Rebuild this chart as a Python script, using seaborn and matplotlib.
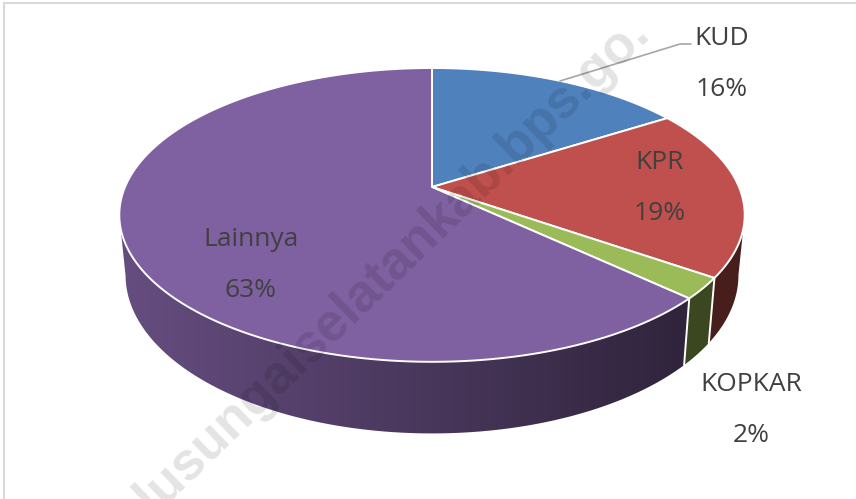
import numpy as np
import matplotlib
matplotlib.use("Agg")
import matplotlib.pyplot as plt
from matplotlib.patches import Polygon
import seaborn as sns

categories = ["KUD", "KPR", "KOPKAR", "Lainnya"]
values = [16, 18.7, 2.3, 63]
slice_colors = ["#4F81BD", "#C0504D", "#9BBB59", "#7F60A0"]
label_pos = [(722, 64), (660, 188), (751, 410), (251, 265)]
watermark = "hulusungaiselatankab.bps.go."

sns.set_theme(style="white")
plt.rcParams['font.family'] = ['Open Sans', 'DejaVu Sans']
palette = sns.color_palette(slice_colors)

fig = plt.figure(figsize=(8.56, 4.99), dpi=100)
ax = fig.add_axes([0, 0, 1, 1])
ax.set_xlim(0, 856)
ax.set_ylim(499, 0)
ax.axis("off")

# perspective of the disc, fitted on the picture
cx, cy = 432, 187
r, q, p = 307, 141.6, 0.19


def top_rim(t):
    x, y = np.cos(t), np.sin(t)
    w = 1 + p * y
    return cx + r * x / w, cy - q * y / w


def base_rim(t):
    x, y = np.cos(t), np.sin(t)
    w = 1 + p * y
    return cx + 0.98 * r * x / w, cy - q * y / w + 58 / w


def wall_shade(px):
    return np.clip(0.80 - 0.42 * (px - 125) / 555, 0.38, 1)


# angles run clockwise from 12 o'clock
edges = np.pi / 2 - 2 * np.pi * np.cumsum([0] + values) / sum(values)

# side wall, from one side extreme of the disc to the other
px = np.arange(0, 857)
for i in range(len(values)):
    ts = np.linspace(edges[i], edges[i + 1], 400)
    ts = ts[np.sin(ts) < -p]
    if len(ts) < 2:
        continue
    xt, yt = top_rim(ts)
    xb, yb = base_rim(ts)
    outline = np.column_stack([np.r_[xt, xb[::-1]], np.r_[yt, yb[::-1]]])
    grad = np.outer(wall_shade(px), np.array(palette[i]))[np.newaxis, :, :]
    im = ax.imshow(grad, extent=(0, 856, 499, 0), aspect="auto", zorder=2)
    im.set_clip_path(Polygon(outline, transform=ax.transData))
ax.set_xlim(0, 856)
ax.set_ylim(499, 0)

# white seams between slices on the wall
for e in edges[1:]:
    if np.sin(e) < 0:
        x0, y0 = top_rim(e)
        x1, y1 = base_rim(e)
        ax.plot([x0, x1], [y0, y1], color="white", lw=1.4, zorder=3)

# top face
for i in range(len(values)):
    ts = np.linspace(edges[i], edges[i + 1], 200)
    xs, ys = top_rim(ts)
    ax.fill(np.r_[cx, xs], np.r_[cy, ys], facecolor=palette[i], edgecolor="white",
            lw=1.4, joinstyle="round", zorder=4)

for name, val, (lx, ly) in zip(categories, values, label_pos):
    ax.text(lx, ly, f"{name}\n\n{round(val)}%", ha="center", va="center", fontsize=19,
            color="#404040", linespacing=1.02, zorder=6)

# leader line for KUD
ax.plot([560, 680, 691], [81, 44, 44], color="#A6A6A6", lw=1.2, zorder=5)

# chart frame, only left and top are in the crop
ax.plot([4, 4], [499, 3], color="#D9D9D9", lw=1.5, zorder=1)
ax.plot([4, 856], [3, 3], color="#D9D9D9", lw=1.5, zorder=1)

ax.text(651, 34, watermark, rotation=44, rotation_mode="anchor", ha="right", va="baseline",
        fontsize=38, fontweight="bold", family="Liberation Sans", color="black", alpha=0.11,
        zorder=7, clip_on=True)

plt.savefig("out.png", dpi=100)
